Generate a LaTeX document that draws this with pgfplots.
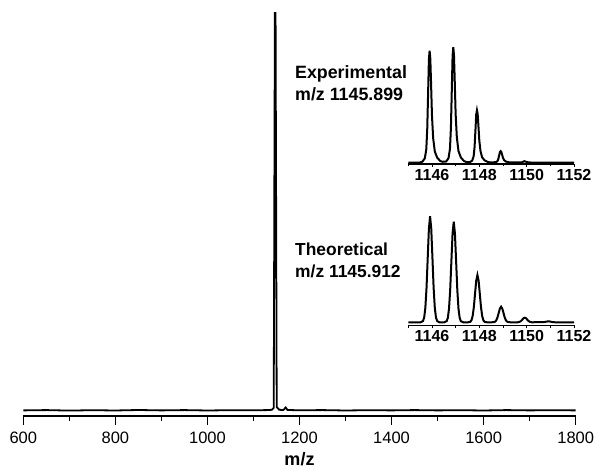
\documentclass[border=0pt]{standalone}
\usepackage{fontspec}
\setmainfont{Liberation Sans}
\usepackage{pgfplots}
\pgfplotsset{compat=1.18}
\pgfplotsset{
  insetstyle/.style={
    scale only axis, anchor=south west,
    xmin=1145, xmax=1152,
    axis x line*=bottom, axis y line=none, ytick=\empty,
    x axis line style={-, line width=1.1pt},
    xtick={1146,1148,1150,1152}, minor xtick={1145,1147,1149,1151},
    tick align=outside, major tick length=3pt, minor tick length=2.5pt,
    every tick/.style={black, line width=0.9pt},
    xticklabel style={font=\fontsize{16}{18}\bfseries\selectfont, yshift=1pt},
    /pgf/number format/assume math mode=true,
    /pgf/number format/set thousands separator={},
    clip=false,
  }
}
\begin{document}
\begin{tikzpicture}[x=1pt,y=1pt]
\useasboundingbox (0,0) rectangle (598,470);
% main spectrum
\begin{axis}[
  at={(23.3pt,54pt)}, anchor=south west,
  scale only axis, width=552.4pt, height=405pt,
  xmin=600, xmax=1800, ymin=-5, ymax=400,
  axis x line*=bottom, axis y line=none, ytick=\empty,
  x axis line style={-, line width=1.2pt},
  xtick={600,800,...,1800}, minor xtick={700,900,...,1700},
  tick align=outside, major tick length=9pt, minor tick length=5pt,
  every tick/.style={black, line width=1.2pt},
  xticklabel style={font=\fontsize{16.5}{19}\selectfont, yshift=-3pt},
  /pgf/number format/assume math mode=true,
  /pgf/number format/set thousands separator={},
  xlabel={m/z}, xlabel style={font=\fontsize{18}{20}\bfseries\selectfont, yshift=-2pt},
  clip=false,
]
\addplot[black, line width=1.8pt] coordinates {
(600,0.6) (650,0.9) (700,0.4) (750,0.8) (800,0.5) (850,1.0) (900,0.6) (950,0.9)
(1000,0.5) (1050,0.8) (1100,0.7) (1130,0.9) (1140,1.2) (1144,3) (1146.5,398)
(1148,398) (1150.5,4) (1156,1.2) (1165,1.0) (1170,3.5) (1174,1.0)
(1200,0.7) (1250,0.9) (1300,0.5) (1350,0.8) (1400,0.6) (1450,0.9) (1500,0.6)
(1550,0.8) (1600,0.5) (1650,0.9) (1700,0.6) (1750,0.8) (1800,0.6)
};
\end{axis}
% experimental inset
\begin{axis}[insetstyle,
  at={(408.3pt,306pt)}, width=165.7pt, height=116.8pt,
  ymin=-1.3, ymax=115.5]
\addplot[black, line width=2pt] coordinates {
(1145.00,0) (1145.50,0.2) (1145.60,1.1) (1145.70,4.5) (1145.76,13.4) (1145.80,33.6)
(1145.84,72.8) (1145.87,103) (1145.90,112) (1145.93,104) (1145.96,80.6)
(1146.00,47) (1146.05,24.6) (1146.12,11.2) (1146.22,5.0) (1146.35,1.7)
(1146.45,0.9) (1146.60,1.2) (1146.70,4.6) (1146.76,13.9) (1146.80,34.7)
(1146.84,75.1) (1146.87,106.3) (1146.90,115.5) (1146.93,107.4) (1146.96,83.2)
(1147.00,48.5) (1147.05,25.4) (1147.12,11.6) (1147.22,5.2) (1147.35,1.7)
(1147.45,0.7) (1147.60,0.5) (1147.70,2.1) (1147.76,6.3) (1147.80,15.8)
(1147.84,34.1) (1147.87,48.3) (1147.90,52.5) (1147.93,48.8) (1147.96,37.8)
(1148.00,22.1) (1148.05,11.6) (1148.12,5.3) (1148.22,2.4) (1148.35,0.8)
(1148.45,0.3) (1148.70,0.5) (1148.76,1.4) (1148.80,3.5) (1148.84,7.5)
(1148.87,10.6) (1148.90,11.5) (1148.93,10.7) (1148.96,8.3) (1149.00,4.8)
(1149.05,2.5) (1149.12,1.2) (1149.22,0.5) (1149.35,0.2) (1149.80,0.4)
(1149.85,1.0) (1149.90,1.5) (1149.95,1.1) (1150.05,0.4) (1150.20,0.1) (1152.00,0)
};
\end{axis}
% theoretical inset
\begin{axis}[insetstyle,
  at={(408.3pt,144.7pt)}, width=165.7pt, height=109pt,
  ymin=-3, ymax=106]
\addplot[black, line width=2pt] coordinates {
(1145.00,0) (1145.52,0) (1145.62,1.2) (1145.67,4.7) (1145.72,14.3) (1145.77,34.4)
(1145.82,64.3) (1145.87,93.5) (1145.92,106) (1145.97,93.5) (1146.02,64.3)
(1146.07,34.4) (1146.12,14.3) (1146.17,4.7) (1146.22,1.2) (1146.32,0)
(1146.52,0) (1146.62,1.1) (1146.67,4.4) (1146.72,13.6) (1146.77,32.7)
(1146.82,61.0) (1146.87,88.8) (1146.92,100.6) (1146.97,88.8) (1147.02,61.0)
(1147.07,32.7) (1147.12,13.6) (1147.17,4.4) (1147.22,1.1) (1147.32,0)
(1147.52,0) (1147.62,0.5) (1147.67,2.1) (1147.72,6.4) (1147.77,15.4)
(1147.82,28.7) (1147.87,41.7) (1147.92,47.3) (1147.97,41.7) (1148.02,28.7)
(1148.07,15.4) (1148.12,6.4) (1148.17,2.1) (1148.22,0.5) (1148.32,0)
(1148.52,0) (1148.62,0.2) (1148.67,0.7) (1148.72,2.1) (1148.77,5.1)
(1148.82,9.5) (1148.87,13.8) (1148.92,15.6) (1148.97,13.8) (1149.02,9.5)
(1149.07,5.1) (1149.12,2.1) (1149.17,0.7) (1149.22,0.2) (1149.32,0)
(1149.62,0) (1149.72,0.6) (1149.77,1.5) (1149.82,2.8) (1149.87,4.1)
(1149.92,4.6) (1149.97,4.1) (1150.02,2.8) (1150.07,1.5) (1150.12,0.6)
(1150.22,0) (1150.77,0.3) (1150.82,0.6) (1150.92,1) (1151.02,0.6)
(1151.07,0.3) (1151.20,0) (1152.00,0)
};
\end{axis}
\node[anchor=west, align=left, inner sep=0pt, font=\fontsize{17.8}{22}\bfseries\selectfont]
  at (295,386.5) {Experimental\\m/z 1145.899};
\node[anchor=west, align=left, inner sep=0pt, font=\fontsize{17.4}{22}\bfseries\selectfont]
  at (295,210) {Theoretical\\m/z 1145.912};
\end{tikzpicture}
\end{document}
